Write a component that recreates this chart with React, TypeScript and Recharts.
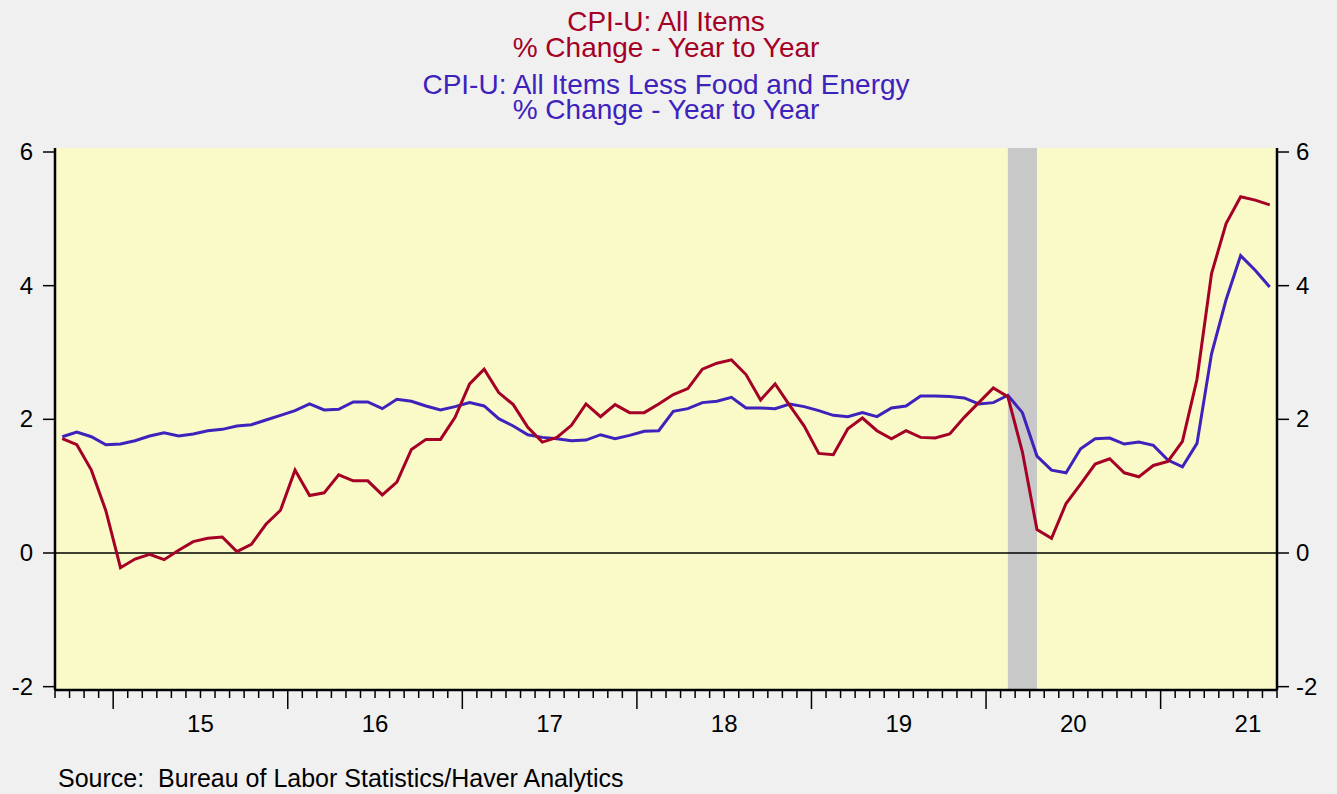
import React from "react";
import {
  LineChart,
  Line,
  XAxis,
  YAxis,
  CartesianGrid,
  ReferenceArea,
  ReferenceLine,
} from "recharts";

// Monthly observations, Sep 2014 .. Aug 2021
const startYear = 2014;
const startMonth = 9; // September
const headline = [
  1.71, 1.62, 1.24, 0.63, -0.22, -0.09, -0.02, -0.1, 0.04, 0.17, 0.22, 0.24, 0.02, 0.13,
  0.43, 0.64, 1.24, 0.86, 0.9, 1.17, 1.08, 1.08, 0.87, 1.06, 1.55, 1.7, 1.7, 2.03,
  2.53, 2.75, 2.4, 2.22, 1.88, 1.66, 1.73, 1.91, 2.23, 2.04, 2.22, 2.1, 2.1, 2.23,
  2.37, 2.46, 2.75, 2.84, 2.89, 2.67, 2.29, 2.53, 2.21, 1.9, 1.49, 1.47, 1.86, 2.02,
  1.83, 1.71, 1.83, 1.73, 1.72, 1.78, 2.03, 2.25, 2.47, 2.34, 1.51, 0.35, 0.22, 0.74,
  1.03, 1.33, 1.41, 1.2, 1.14, 1.31, 1.37, 1.67, 2.6, 4.18, 4.93, 5.33, 5.28, 5.21,
];
const core = [
  1.74, 1.81, 1.74, 1.62, 1.63, 1.68, 1.75, 1.8, 1.75, 1.78, 1.83, 1.85, 1.9, 1.92,
  1.99, 2.06, 2.13, 2.23, 2.14, 2.15, 2.26, 2.26, 2.16, 2.3, 2.27, 2.2, 2.14, 2.19,
  2.25, 2.2, 2.01, 1.9, 1.77, 1.73, 1.71, 1.68, 1.69, 1.77, 1.71, 1.76, 1.82, 1.83,
  2.12, 2.16, 2.25, 2.27, 2.33, 2.17, 2.17, 2.16, 2.23, 2.19, 2.13, 2.06, 2.04, 2.1,
  2.04, 2.17, 2.2, 2.35, 2.35, 2.34, 2.32, 2.23, 2.25, 2.36, 2.1, 1.45, 1.24, 1.2,
  1.56, 1.71, 1.72, 1.63, 1.66, 1.61, 1.39, 1.29, 1.64, 2.98, 3.79, 4.45, 4.23, 3.98,
];
const yearLabels = ["15", "16", "17", "18", "19", "20", "21"];
const yTicks = [-2, 0, 2, 4, 6];
// Recession (shaded): Feb 2020 .. Apr 2020
const recession = { from: [2020, 2], to: [2020, 4] };

const monthIndex = (y: number, m: number) => (y - startYear) * 12 + (m - startMonth);
const totalMonths = headline.length;

const data = headline.map((h, i) => ({
  x: i + 0.5,
  headline: h,
  core: core[i],
}));

const xTicks = Array.from({ length: totalMonths + 1 }, (_, i) => i);
const firstJan = monthIndex(startYear + 1, 1);

const FONT = "'Liberation Sans', Arial, Helvetica, sans-serif";
const RED = "#A50026";
const BLUE = "#3D22BC";

const XTick = (props: any) => {
  const { x, y, payload } = props;
  const v = payload.value as number;
  const major = (v - firstJan) % 12 === 0;
  const isLabel = (v - firstJan - 6) % 12 === 0 && v >= firstJan + 6;
  const li = (v - firstJan - 6) / 12;
  return (
    <g>
      <line x1={x} x2={x} y1={y} y2={y + (major ? 19 : 8)} stroke="#000" strokeWidth={1.5} />
      {isLabel && yearLabels[li] !== undefined && (
        <text x={x} y={y + 42} textAnchor="middle" fontSize={24} fontFamily={FONT} fill="#000">
          {yearLabels[li]}
        </text>
      )}
    </g>
  );
};

const YTick = (props: any) => {
  const { x, y, payload, textAnchor } = props;
  return (
    <text x={x} y={y + 8} textAnchor={textAnchor} fontSize={24} fontFamily={FONT} fill="#000">
      {payload.value}
    </text>
  );
};

export default function App() {
  return (
    <div
      style={{
        position: "absolute",
        left: 0,
        top: 0,
        width: 1337,
        height: 794,
        background: "#F0F0F0",
        fontFamily: FONT,
        overflow: "hidden",
      }}
    >
      <div style={{ position: "absolute", left: 0, width: 1332, top: 0, textAlign: "center", fontSize: 28 }}>
        <div style={{ position: "absolute", left: 0, right: 0, top: 9, lineHeight: "26px", color: RED }}>
          CPI-U: All Items
          <br />
          % Change - Year to Year
        </div>
        <div style={{ position: "absolute", left: 0, right: 0, top: 71.5, lineHeight: "25px", color: BLUE }}>
          CPI-U: All Items Less Food and Energy
          <br />
          % Change - Year to Year
        </div>
      </div>
      <div style={{ position: "absolute", left: 0, top: 0 }}>
        <LineChart
          width={1337}
          height={794}
          data={data}
          margin={{ top: 148, right: 0, bottom: 60, left: 0 }}
        >
          <CartesianGrid fill="#FAFAC8" horizontal={false} vertical={false} stroke="none" xAxisId="b" yAxisId="left" />
          <XAxis
            xAxisId="b"
            dataKey="x"
            type="number"
            domain={[0, totalMonths]}
            ticks={xTicks}
            interval={0}
            allowDataOverflow
            tickLine={false}
            tickSize={0}
            tickMargin={0}
            tick={<XTick />}
            axisLine={{ stroke: "#000", strokeWidth: 2.5 }}
            height={44}
          />
          <XAxis
            xAxisId="t"
            orientation="top"
            dataKey="x"
            type="number"
            domain={[0, totalMonths]}
            tick={false}
            tickLine={false}
            axisLine={{ stroke: "#000", strokeWidth: 2.5 }}
            height={0}
          />
          <YAxis
            yAxisId="left"
            domain={[-2.05, 6.06]}
            ticks={yTicks}
            allowDataOverflow
            width={55}
            tickSize={12}
            tickMargin={10}
            interval={0}
            tickLine={{ stroke: "#000", strokeWidth: 1.5 }}
            axisLine={{ stroke: "#000", strokeWidth: 2.5 }}
            tick={<YTick />}
          />
          <YAxis
            yAxisId="right"
            orientation="right"
            domain={[-2.05, 6.06]}
            ticks={yTicks}
            allowDataOverflow
            width={60}
            tickSize={12}
            tickMargin={7}
            interval={0}
            tickLine={{ stroke: "#000", strokeWidth: 1.5 }}
            axisLine={{ stroke: "#000", strokeWidth: 2.5 }}
            tick={<YTick />}
          />
          <ReferenceArea
            xAxisId="b"
            yAxisId="left"
            x1={monthIndex(recession.from[0], recession.from[1]) + 0.5}
            x2={monthIndex(recession.to[0], recession.to[1]) + 0.5}
            y1={-2.05}
            y2={6.06}
            fill="#C8C8C8"
            fillOpacity={1}
            stroke="none"
            ifOverflow="hidden"
          />
          <ReferenceLine xAxisId="b" yAxisId="left" y={0} stroke="#000" strokeWidth={1.5} />
          <Line
            xAxisId="b"
            yAxisId="left"
            type="linear"
            dataKey="core"
            stroke={BLUE}
            strokeWidth={3}
            dot={false}
            activeDot={false}
            isAnimationActive={false}
          />
          <Line
            xAxisId="b"
            yAxisId="left"
            type="linear"
            dataKey="headline"
            stroke={RED}
            strokeWidth={3}
            dot={false}
            activeDot={false}
            isAnimationActive={false}
          />
        </LineChart>
      </div>
      <div
        style={{
          position: "absolute",
          left: 58,
          top: 764,
          fontSize: 25,
          lineHeight: "28px",
          color: "#000",
          whiteSpace: "pre",
        }}
      >
        {"Source:  Bureau of Labor Statistics/Haver Analytics"}
      </div>
    </div>
  );
}
